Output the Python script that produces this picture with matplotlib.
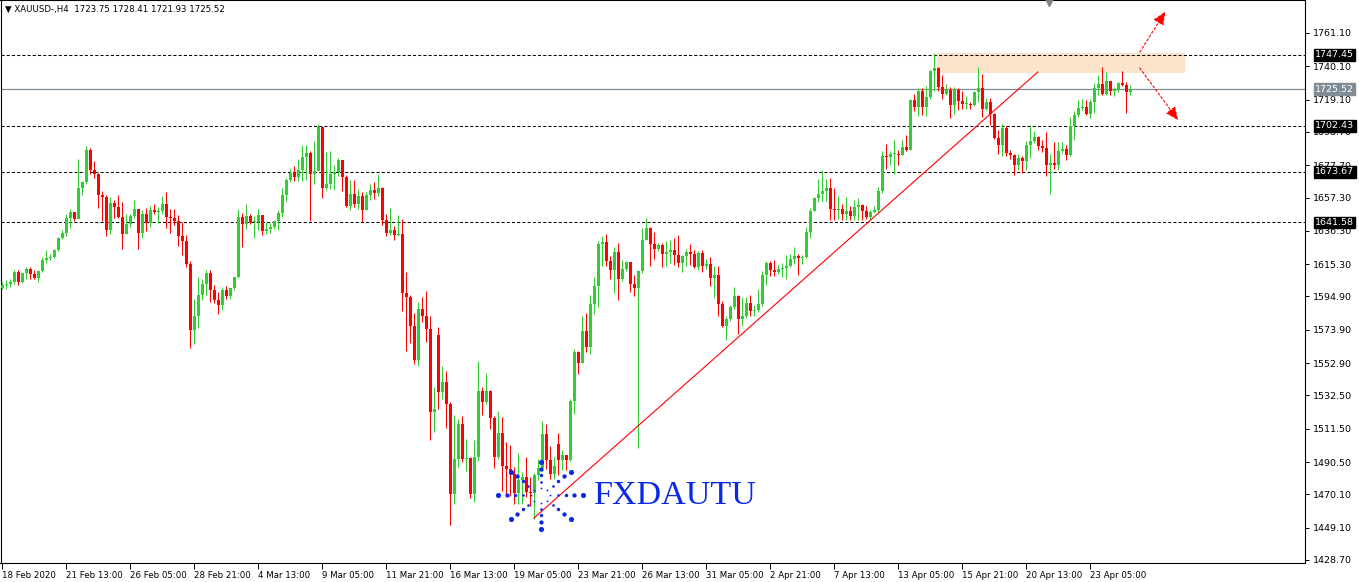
import matplotlib
matplotlib.use('Agg')
import matplotlib.pyplot as plt
import matplotlib.transforms as mtransforms
import numpy as np

# XAUUSD H4 candles (close / high / low), open = previous close
first_open = 1600.2
closes = [1602.1, 1602.8, 1604.0, 1610.3, 1604.0, 1609.7, 1612.2, 1609.1, 1606.6, 1611.0,
          1617.9, 1619.2, 1619.8, 1624.2, 1631.8, 1634.9, 1644.4, 1648.2, 1643.7, 1663.3,
          1667.1, 1687.3, 1674.7, 1672.1, 1658.9, 1657.6, 1636.8, 1653.8, 1651.3, 1645.0,
          1634.3, 1640.6, 1645.6, 1650.1, 1634.9, 1646.9, 1641.2, 1649.4, 1648.2, 1648.8,
          1653.2, 1645.0, 1644.4, 1642.5, 1633.0, 1629.9, 1615.4, 1573.7, 1582.6, 1595.8,
          1602.8, 1609.7, 1599.0, 1592.7, 1589.5, 1599.0, 1595.2, 1600.2, 1607.2, 1645.0,
          1640.6, 1645.6, 1641.9, 1641.9, 1646.3, 1636.2, 1637.4, 1638.7, 1642.5, 1647.5,
          1658.9, 1668.4, 1672.8, 1670.3, 1674.7, 1682.9, 1685.4, 1672.1, 1674.0, 1701.8,
          1663.3, 1665.8, 1672.1, 1673.4, 1681.0, 1670.3, 1651.9, 1659.5, 1653.2, 1658.3,
          1649.4, 1658.9, 1662.0, 1660.2, 1663.3, 1643.1, 1634.9, 1636.8, 1633.7, 1634.3,
          1597.1, 1594.6, 1576.3, 1554.8, 1587.0, 1582.6, 1574.4, 1522.0, 1523.9, 1534.6,
          1540.9, 1527.1, 1470.3, 1492.3, 1514.4, 1492.3, 1493.0, 1470.3, 1493.6, 1535.3,
          1528.3, 1535.3, 1518.2, 1493.6, 1508.8, 1487.9, 1486.1, 1482.9, 1470.9, 1479.1,
          1481.0, 1471.5, 1470.9, 1482.3, 1486.7, 1508.1, 1491.7, 1482.9, 1487.9, 1491.7,
          1494.9, 1491.7, 1529.0, 1559.9, 1552.9, 1573.1, 1563.0, 1590.1, 1601.5, 1628.0,
          1629.2, 1617.3, 1611.6, 1622.9, 1605.9, 1612.2, 1616.6, 1602.8, 1600.2, 1611.0,
          1630.5, 1638.1, 1628.0, 1624.8, 1627.4, 1621.7, 1622.9, 1624.2, 1621.0, 1616.0,
          1620.4, 1622.9, 1621.7, 1613.5, 1622.3, 1614.1, 1615.4, 1606.6, 1608.4, 1590.1,
          1576.3, 1580.7, 1588.2, 1595.2, 1580.7, 1582.6, 1590.8, 1585.7, 1586.4, 1590.1,
          1608.4, 1616.0, 1611.6, 1610.3, 1612.2, 1612.8, 1614.1, 1618.5, 1620.4, 1619.2,
          1619.8, 1635.6, 1648.8, 1657.0, 1659.5, 1661.4, 1663.3, 1650.1, 1649.4, 1650.1,
          1646.9, 1648.8, 1645.6, 1651.3, 1652.6, 1648.8, 1645.0, 1648.2, 1649.4, 1661.4,
          1683.5, 1682.9, 1684.8, 1684.8, 1684.1, 1689.2, 1687.3, 1718.8, 1714.4, 1724.5,
          1714.4, 1720.7, 1737.1, 1739.0, 1727.0, 1722.6, 1725.1, 1715.7, 1725.1, 1718.2,
          1716.3, 1716.3, 1715.7, 1723.9, 1726.4, 1713.1, 1717.6, 1710.0, 1694.9, 1690.4,
          1701.2, 1685.4, 1684.1, 1677.8, 1682.2, 1680.3, 1690.4, 1692.9, 1695.5, 1689.8,
          1688.5, 1677.8, 1679.1, 1677.8, 1686.6, 1687.9, 1684.1, 1702.4, 1709.3, 1713.8,
          1714.4, 1710.0, 1717.6, 1726.4, 1728.9, 1722.6, 1730.8, 1724.5, 1725.8, 1729.5,
          1728.3, 1723.9, 1725.52]
highs = [1604.0, 1605.3, 1605.9, 1611.6, 1611.6, 1609.9, 1613.5, 1613.5, 1611.6, 1611.6,
         1619.8, 1624.2, 1621.7, 1624.8, 1632.4, 1636.8, 1646.9, 1650.1, 1648.2, 1681.6,
         1667.7, 1689.8, 1688.5, 1680.3, 1672.8, 1661.4, 1658.9, 1657.6, 1655.7, 1658.9,
         1654.5, 1646.9, 1646.9, 1655.7, 1650.1, 1649.4, 1650.7, 1651.9, 1653.2, 1651.3,
         1658.3, 1660.8, 1650.1, 1650.1, 1646.3, 1641.9, 1633.7, 1617.3, 1593.3, 1607.2,
         1605.9, 1611.6, 1611.6, 1602.1, 1597.7, 1600.9, 1601.5, 1600.5, 1607.5, 1650.1,
         1647.5, 1653.2, 1646.9, 1645.6, 1650.1, 1645.6, 1641.9, 1641.2, 1642.8, 1649.4,
         1663.3, 1669.6, 1675.3, 1677.2, 1681.6, 1690.4, 1690.4, 1686.6, 1692.9, 1703.7,
         1701.8, 1686.0, 1686.6, 1677.8, 1682.2, 1681.0, 1671.5, 1668.4, 1668.4, 1662.7,
         1660.8, 1660.8, 1665.8, 1667.1, 1672.1, 1663.9, 1646.9, 1650.7, 1639.3, 1646.3,
         1643.7, 1610.3, 1595.8, 1584.5, 1591.4, 1594.6, 1598.3, 1582.6, 1537.8, 1575.6,
         1551.0, 1547.9, 1528.3, 1520.1, 1517.6, 1519.5, 1505.0, 1493.6, 1504.3, 1554.2,
         1537.8, 1546.6, 1535.9, 1519.5, 1522.6, 1518.8, 1503.1, 1501.2, 1487.3, 1496.1,
         1484.2, 1493.6, 1481.0, 1483.5, 1492.3, 1516.3, 1514.4, 1500.6, 1493.6, 1508.8,
         1498.0, 1494.9, 1530.2, 1561.7, 1560.5, 1582.6, 1584.5, 1595.8, 1607.2, 1629.9,
         1633.0, 1634.3, 1620.4, 1626.1, 1628.6, 1617.9, 1617.3, 1616.6, 1608.4, 1611.6,
         1638.1, 1644.4, 1638.7, 1635.6, 1628.6, 1628.6, 1629.9, 1630.5, 1631.8, 1633.7,
         1621.0, 1624.8, 1628.0, 1624.2, 1623.6, 1624.2, 1618.5, 1619.8, 1614.1, 1614.1,
         1592.0, 1582.6, 1589.5, 1600.9, 1595.8, 1594.6, 1594.6, 1595.8, 1589.5, 1599.6,
         1611.0, 1617.3, 1617.3, 1617.9, 1614.8, 1616.0, 1621.0, 1621.7, 1626.1, 1621.7,
         1621.0, 1638.7, 1650.7, 1657.6, 1669.0, 1674.7, 1669.0, 1669.6, 1663.3, 1658.3,
         1653.2, 1657.6, 1651.9, 1655.7, 1657.0, 1653.2, 1651.9, 1649.4, 1651.9, 1663.9,
         1686.6, 1691.1, 1686.6, 1693.6, 1687.3, 1693.6, 1696.7, 1719.5, 1722.6, 1726.4,
         1726.4, 1727.6, 1737.7, 1748.5, 1739.6, 1734.6, 1728.9, 1727.0, 1727.0, 1726.4,
         1724.5, 1721.3, 1717.6, 1724.5, 1739.6, 1735.2, 1720.1, 1720.1, 1710.6, 1699.9,
         1703.7, 1702.4, 1687.3, 1684.8, 1684.8, 1683.5, 1692.9, 1703.0, 1699.3, 1696.1,
         1693.6, 1698.6, 1684.8, 1692.3, 1692.3, 1692.3, 1690.4, 1708.1, 1711.9, 1718.8,
         1719.5, 1718.8, 1719.5, 1729.5, 1734.6, 1739.6, 1736.5, 1730.8, 1727.0, 1730.2,
         1737.1, 1730.2, 1728.41]
lows = [1599.6, 1599.6, 1600.9, 1602.8, 1602.1, 1603.4, 1605.9, 1605.9, 1605.9, 1604.0,
        1610.3, 1616.0, 1617.9, 1619.2, 1623.6, 1631.1, 1633.0, 1638.1, 1642.5, 1651.9,
        1658.9, 1665.8, 1672.1, 1669.6, 1650.7, 1642.5, 1633.0, 1634.3, 1644.4, 1644.4,
        1624.8, 1634.3, 1638.7, 1644.4, 1624.8, 1631.8, 1636.2, 1638.7, 1646.9, 1641.2,
        1646.9, 1638.1, 1634.9, 1640.0, 1626.7, 1621.0, 1613.5, 1562.4, 1564.9, 1575.0,
        1592.7, 1595.8, 1591.4, 1590.8, 1583.8, 1586.4, 1593.3, 1593.3, 1599.0, 1606.6,
        1626.1, 1637.4, 1640.6, 1631.8, 1636.8, 1633.7, 1634.3, 1634.9, 1637.4, 1636.8,
        1645.0, 1655.1, 1667.1, 1667.7, 1667.7, 1667.7, 1668.4, 1642.5, 1665.8, 1679.1,
        1657.0, 1662.0, 1662.7, 1662.0, 1670.9, 1661.4, 1651.3, 1649.4, 1651.3, 1650.1,
        1641.9, 1649.4, 1655.7, 1656.4, 1658.3, 1640.0, 1633.0, 1633.7, 1630.5, 1633.0,
        1585.7, 1560.5, 1565.5, 1552.3, 1551.0, 1578.8, 1566.2, 1504.3, 1509.4, 1523.9,
        1530.2, 1511.9, 1450.7, 1464.0, 1487.3, 1490.5, 1484.8, 1467.8, 1465.2, 1491.1,
        1520.1, 1527.1, 1511.3, 1486.7, 1492.3, 1472.2, 1469.7, 1469.0, 1464.0, 1464.0,
        1464.0, 1468.4, 1462.7, 1454.5, 1479.1, 1484.8, 1486.1, 1479.7, 1479.7, 1482.3,
        1485.4, 1485.4, 1491.1, 1520.7, 1546.0, 1552.9, 1559.9, 1558.6, 1583.8, 1588.2,
        1614.1, 1614.1, 1605.9, 1597.1, 1592.7, 1604.6, 1611.0, 1597.7, 1595.2, 1499.3,
        1609.7, 1630.5, 1614.1, 1618.5, 1623.6, 1613.5, 1614.1, 1616.0, 1614.8, 1613.5,
        1610.3, 1614.1, 1614.8, 1612.8, 1611.6, 1610.3, 1612.2, 1601.5, 1593.9, 1582.6,
        1575.6, 1567.4, 1579.4, 1587.0, 1571.2, 1576.3, 1581.3, 1582.6, 1582.6, 1585.1,
        1588.9, 1602.1, 1607.8, 1607.8, 1609.1, 1607.2, 1605.9, 1613.5, 1615.4, 1608.4,
        1615.4, 1619.2, 1631.8, 1648.8, 1654.5, 1655.1, 1655.1, 1643.1, 1643.1, 1643.7,
        1643.1, 1643.1, 1643.1, 1643.1, 1643.1, 1643.1, 1643.7, 1643.1, 1647.5, 1648.2,
        1660.2, 1675.3, 1677.8, 1672.1, 1677.8, 1684.1, 1686.6, 1687.3, 1711.9, 1708.7,
        1709.3, 1708.7, 1719.5, 1724.5, 1724.5, 1719.5, 1722.0, 1707.5, 1710.0, 1712.5,
        1713.1, 1713.1, 1713.1, 1715.0, 1717.6, 1708.1, 1712.5, 1703.0, 1694.2, 1684.8,
        1683.5, 1683.5, 1681.6, 1671.5, 1674.7, 1672.8, 1674.7, 1682.2, 1691.7, 1687.3,
        1686.0, 1670.9, 1659.5, 1675.3, 1674.7, 1685.4, 1681.0, 1683.5, 1693.6, 1708.1,
        1712.5, 1709.3, 1707.5, 1710.6, 1722.0, 1722.0, 1722.0, 1722.0, 1721.3, 1723.9,
        1727.6, 1710.6, 1721.93]
# opens that differ from the previous close (weekend gaps, last bar)
gap_opens = {109: 1570.6, 139: 1501.8, 282: 1723.75}

date_labels = ['18 Feb 2020', '21 Feb 13:00', '26 Feb 05:00', '28 Feb 21:00', '4 Mar 13:00',
               '9 Mar 05:00', '11 Mar 21:00', '16 Mar 13:00', '19 Mar 05:00', '23 Mar 21:00',
               '26 Mar 13:00', '31 Mar 05:00', '2 Apr 21:00', '7 Apr 13:00', '13 Apr 05:00',
               '15 Apr 21:00', '20 Apr 13:00', '23 Apr 05:00']
price_ticks = [1761.10, 1740.10, 1719.10, 1698.70, 1677.70, 1657.30, 1636.30, 1615.30, 1594.90,
               1573.90, 1552.90, 1532.50, 1511.50, 1490.50, 1470.10, 1449.10, 1428.70]
levels = [1747.45, 1702.43, 1673.67, 1641.58]
last_price = 1725.52
header = '\u25bc XAUUSD-,H4  1723.75 1728.41 1721.93 1725.52'

# drawing objects (bar index, price)
zone = (233.7, 295.7, 1735.9, 1748.5)
trend = ((132.9, 1455.1), (258.9, 1736.5))
arrow_up = ((284.4, 1749.1), (290.8, 1774.6))
arrow_down = ((284.4, 1739.0), (294.0, 1706.0))

UP = '#32CD32'
DOWN = '#FF0000'

closes = np.array(closes)
highs = np.array(highs)
lows = np.array(lows)
opens = np.concatenate([[first_open], closes[:-1]])
for i, v in gap_opens.items():
    opens[i] = v
idx = np.arange(len(closes))
colors = np.where(closes >= opens, UP, DOWN)

W, H = 1359, 582
fig = plt.figure(figsize=(W / 100, H / 100), dpi=100)
ax = fig.add_axes([0.5 / W, (H - 563) / H, 1304.5 / W, 563 / H])
ax.set_xlim(-0.45, 325.7)
ax.set_ylim(1426.8, 1781.9)

# levels and zone go under the candles
ax.add_patch(plt.Rectangle((zone[0], zone[2]), zone[1] - zone[0], zone[3] - zone[2],
                           facecolor='#FCE3CB', edgecolor='none', zorder=1))
for lv in levels:
    ax.axhline(lv, color='black', linestyle=(0, (3, 2)), linewidth=0.75, zorder=2)
ax.axhline(last_price, color='#7F8C95', linewidth=0.9, zorder=2)

ax.vlines(idx, lows, highs, colors=colors, linewidth=0.75, zorder=3)
body_lo = np.minimum(opens, closes)
body_h = np.maximum(np.abs(closes - opens), 0.5)
ax.bar(idx, body_h, bottom=body_lo, width=0.75, color=colors, linewidth=0, zorder=4)

ax.plot([trend[0][0], trend[1][0]], [trend[0][1], trend[1][1]], color='red', linewidth=0.8, zorder=5)
for (x0, y0), (x1, y1) in (arrow_up, arrow_down):
    ax.annotate('', xy=(x1, y1), xytext=(x0, y0),
                arrowprops=dict(arrowstyle='-|>,head_length=0.8,head_width=0.35', color='red',
                                linestyle=(0, (2, 2)), linewidth=0.8, shrinkA=0, shrinkB=0),
                zorder=6)

# axes look like an MT4 chart window
for s in ax.spines.values():
    s.set_color('black')
    s.set_linewidth(0.8)
ax.yaxis.tick_right()
ax.set_yticks(price_ticks)
ax.set_yticklabels([f'{p:.2f}' for p in price_ticks])
ax.tick_params(axis='y', labelsize=6.8, length=3, pad=3, width=0.7)
ax.set_xticks(np.arange(len(date_labels)) * 16)
ax.set_xticklabels(date_labels, ha='left')
ax.tick_params(axis='x', labelsize=6.2, length=4, pad=2, width=0.7)

ytrans = mtransforms.blended_transform_factory(ax.transAxes, ax.transData)
for lv in levels + [last_price]:
    fc = 'black' if lv != last_price else '#7F8C95'
    ax.text(1.0 + 10 / 1304.5, lv, f'{lv:.2f}', transform=ytrans, fontsize=6.8, color='white',
            ha='left', va='center', zorder=10, clip_on=False,
            bbox=dict(boxstyle='square,pad=0.15', facecolor=fc, edgecolor=fc))

fig.text(5 / W, 1 - 9 / H, header, fontsize=6.2, ha='left', va='center')

# shift marker at the top
ax.plot([261.6], [1780.5], marker='v', markersize=6, color='#808080', clip_on=False, zorder=7)

# FXDAUTU logo: dotted starburst and text
cx, cy = 134.6, 1469.5
for ang in np.arange(8) * np.pi / 4:
    for k, r in enumerate([2.4, 4.3, 6.3, 8.4, 10.6]):
        ax.plot(cx + r * np.cos(ang), cy + r * 2.0 * np.sin(ang), 'o',
                color='#0A28E6', markersize=1.3 + 0.6 * k, markeredgewidth=0, zorder=6)
ax.text(148.0, 1469.0, 'FXDAUTU', fontsize=24.5, family='Liberation Serif', color='#0A28E6',
        ha='left', va='center', zorder=6)

fig.savefig('out.png', dpi=100)
